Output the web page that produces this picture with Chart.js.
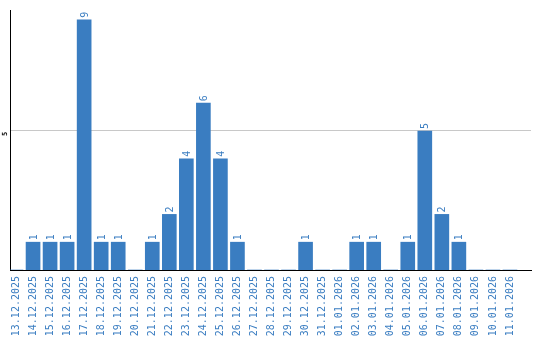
<!DOCTYPE html>
<html>
<head>
<meta charset="utf-8">
<script src="https://cdn.jsdelivr.net/npm/chart.js@4"></script>
<style>
  html, body { margin: 0; padding: 0; background: #fff; }
  #wrap { width: 540px; height: 340px; }
</style>
</head>
<body>
<div id="wrap"><canvas id="grafico"></canvas></div>
<script>
const fechas = [
  '13.12.2025', '14.12.2025', '15.12.2025', '16.12.2025', '17.12.2025',
  '18.12.2025', '19.12.2025', '20.12.2025', '21.12.2025', '22.12.2025',
  '23.12.2025', '24.12.2025', '25.12.2025', '26.12.2025', '27.12.2025',
  '28.12.2025', '29.12.2025', '30.12.2025', '31.12.2025', '01.01.2026',
  '02.01.2026', '03.01.2026', '04.01.2026', '05.01.2026', '06.01.2026',
  '07.01.2026', '08.01.2026', '09.01.2026', '10.01.2026', '11.01.2026'
];
const cantidades = [0, 1, 1, 1, 9, 1, 1, 0, 1, 2, 4, 6, 4, 1, 0, 0, 0, 1, 0, 0, 1, 1, 0, 1, 5, 2, 1, 0, 0, 0];
const marcasEjeY = [5];

const AZUL = '#3a7dc1';
const FUENTE = '"DejaVu Sans Mono", monospace';

// Numeros encima de cada barra, girados como en el original
const etiquetasBarras = {
  id: 'etiquetasBarras',
  afterDatasetsDraw(chart) {
    const ctx = chart.ctx;
    const meta = chart.getDatasetMeta(0);
    ctx.save();
    ctx.fillStyle = AZUL;
    ctx.font = '10px ' + FUENTE;
    ctx.textAlign = 'left';
    ctx.textBaseline = 'middle';
    meta.data.forEach((barra, i) => {
      const valor = cantidades[i];
      if (!valor) return;
      ctx.save();
      ctx.translate(barra.x + 1, barra.y - 2);
      ctx.rotate(-Math.PI / 2);
      ctx.fillText(String(valor), 0, 0);
      ctx.restore();
    });
    ctx.restore();
  }
};

// Etiqueta del eje Y (girada), Chart.js no gira ticks verticales
const etiquetaEjeY = {
  id: 'etiquetaEjeY',
  afterDraw(chart) {
    const ctx = chart.ctx;
    const y = chart.scales.y;
    ctx.save();
    ctx.fillStyle = '#000';
    ctx.font = 'bold 7px ' + FUENTE;
    ctx.textAlign = 'center';
    ctx.textBaseline = 'alphabetic';
    marcasEjeY.forEach(v => {
      ctx.save();
      ctx.translate(7, y.getPixelForValue(v) + 3);
      ctx.rotate(-Math.PI / 2);
      ctx.fillText(String(v), 0, 0);
      ctx.restore();
    });
    ctx.restore();
  }
};

new Chart(document.getElementById('grafico'), {
  type: 'bar',
  data: {
    datasets: [{
      data: cantidades.map((c, i) => ({ x: i, y: c })),
      backgroundColor: AZUL,
      barThickness: 14
    }]
  },
  options: {
    responsive: true,
    maintainAspectRatio: false,
    animation: false,
    layout: { padding: { left: 10, right: 9, top: 10, bottom: 0 } },
    plugins: {
      legend: { display: false },
      tooltip: { enabled: false }
    },
    scales: {
      x: {
        type: 'linear',
        offset: false,
        min: -0.353,
        max: 30.235,
        afterBuildTicks: (scale) => {
          scale.ticks = fechas.map((f, i) => ({ value: i }));
        },
        afterFit: (scale) => {
          // sin margen extra por las etiquetas giradas
          scale.paddingLeft = 0;
          scale.paddingRight = 0;
          scale.height = 70;
        },
        grid: { display: false, drawTicks: false, offset: false },
        border: { display: true, color: '#000', width: 1 },
        ticks: {
          autoSkip: false,
          minRotation: 90,
          maxRotation: 90,
          padding: 6,
          color: AZUL,
          font: { family: FUENTE, size: 10 },
          callback: (v) => fechas[v]
        }
      },
      y: {
        min: 0,
        max: 9.35,
        afterBuildTicks: (scale) => {
          scale.ticks = marcasEjeY.map(v => ({ value: v }));
        },
        afterFit: (scale) => {
          scale.width = 0;
        },
        grid: { color: '#c8c8c8', drawTicks: false },
        border: { display: true, color: '#000', width: 1 },
        ticks: { display: false }
      }
    }
  },
  plugins: [etiquetasBarras, etiquetaEjeY]
});
</script>
</body>
</html>
